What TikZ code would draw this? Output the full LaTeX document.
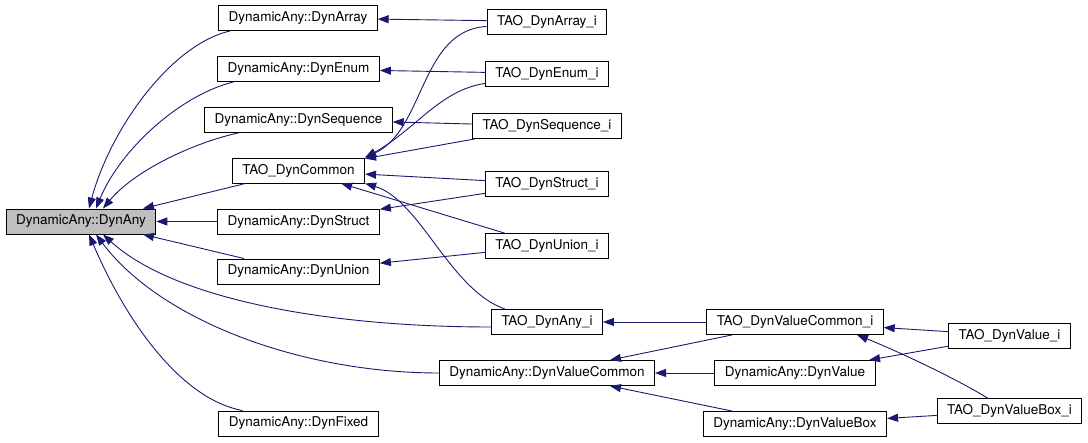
\documentclass[tikz,border=0pt]{standalone}
\usepackage{fontspec}
\setsansfont{TeX Gyre Heros}
\usetikzlibrary{arrows.meta}
\definecolor{edgeblue}{RGB}{25,25,112}
\definecolor{basegray}{RGB}{191,191,191}

\begin{document}
\begin{tikzpicture}[x=1pt, y=-1pt, >={Triangle[length=11pt,width=8pt]},
  every node/.style={font=\sffamily\fontsize{13.5}{16}\selectfont},
  cls/.style={draw, line width=0.9pt, inner xsep=10pt, inner ysep=0pt, minimum height=25pt},
  dep/.style={->, draw=edgeblue, line width=0.9pt}]
  \useasboundingbox (0,0) rectangle (1088,443);
  % classes
  \node[cls, fill=basegray] (dynany) at (81,221.5) {DynamicAny::DynAny};
  \node[cls] (dynarray)  at (298,18)    {DynamicAny::DynArray};
  \node[cls] (dynenum)   at (298.5,69)  {DynamicAny::DynEnum};
  \node[cls] (dynseq)    at (298.5,119.5) {DynamicAny::DynSequence};
  \node[cls] (dyncommon) at (298.5,170.5) {TAO\_DynCommon};
  \node[cls] (dynstruct) at (298.5,221.5) {DynamicAny::DynStruct};
  \node[cls] (dynunion)  at (298.5,271.5) {DynamicAny::DynUnion};
  \node[cls] (dynfixed)  at (298.5,423.5) {DynamicAny::DynFixed};
  \node[cls] (arrayi)    at (547,21.5)  {TAO\_DynArray\_i};
  \node[cls] (enumi)     at (547,73.5)  {TAO\_DynEnum\_i};
  \node[cls] (seqi)      at (547,126)   {TAO\_DynSequence\_i};
  \node[cls] (structi)   at (547,184)   {TAO\_DynStruct\_i};
  \node[cls] (unioni)    at (547,246)   {TAO\_DynUnion\_i};
  \node[cls] (anyi)      at (547,322)   {TAO\_DynAny\_i};
  \node[cls] (valuecommon)  at (547,373) {DynamicAny::DynValueCommon};
  \node[cls] (valuecommoni) at (795,322) {TAO\_DynValueCommon\_i};
  \node[cls] (value)     at (795,373)   {DynamicAny::DynValue};
  \node[cls] (valuebox)  at (795,424)   {DynamicAny::DynValueBox};
  \node[cls] (valuei)    at (1009.5,335.5) {TAO\_DynValue\_i};
  \node[cls] (valueboxi) at (1009.5,411)   {TAO\_DynValueBox\_i};
  % into DynAny
  \draw[dep] ([xshift=-68pt]dynarray.south) .. controls (170,45) and (110,130) .. ([xshift=8pt]dynany.north);
  \draw[dep] ([xshift=-65pt]dynenum.south) .. controls (180,95) and (120,150) .. ([xshift=15pt]dynany.north);
  \draw[dep] ([xshift=-58pt]dynseq.south) .. controls (195,142) and (135,170) .. ([xshift=22pt]dynany.north);
  \draw[dep] (dyncommon) -- ([xshift=62pt]dynany.north);
  \draw[dep] (dynstruct) -- (dynany);
  \draw[dep] (dynunion) -- ([xshift=62pt]dynany.south);
  \draw[dep] ([yshift=-5pt]anyi.west) .. controls (330,327) and (175,300) .. ([xshift=22pt]dynany.south);
  \draw[dep] (valuecommon.west) .. controls (300,373) and (160,320) .. ([xshift=15pt]dynany.south);
  \draw[dep] ([xshift=-56pt]dynfixed.north) .. controls (185,400) and (130,330) .. ([xshift=8pt]dynany.south);
  % into the DynamicAny interfaces
  \draw[dep] (arrayi) -- (dynarray);
  \draw[dep] (enumi) -- (dynenum);
  \draw[dep] (seqi) -- (dynseq);
  \draw[dep] (structi) -- (dynstruct);
  \draw[dep] (unioni) -- (dynunion);
  % into TAO_DynCommon
  \draw[dep] ([yshift=-5pt]arrayi.west) .. controls (420,30) and (425,130) .. (dyncommon.north east);
  \draw[dep] ([yshift=3pt]enumi.south west) .. controls (440,90) and (415,130) .. (dyncommon.north east);
  \draw[dep] (seqi) -- (dyncommon);
  \draw[dep] (structi) -- (dyncommon);
  \draw[dep] (unioni) -- (dyncommon);
  \draw[dep] ([xshift=-42pt]anyi.north) .. controls (450,290) and (420,200) .. (dyncommon.south east);
  % value types
  \draw[dep] (valuecommoni) -- (anyi);
  \draw[dep] (valuecommoni) -- (valuecommon);
  \draw[dep] (value) -- (valuecommon);
  \draw[dep] (valuebox) -- (valuecommon);
  \draw[dep] (valuei) -- (valuecommoni);
  \draw[dep] (valuei) -- (value);
  \draw[dep] ([xshift=-22pt]valueboxi.north) .. controls (955,378) and (895,350) .. ([xshift=62pt]valuecommoni.south);
  \draw[dep] (valueboxi) -- (valuebox);
\end{tikzpicture}
\end{document}
